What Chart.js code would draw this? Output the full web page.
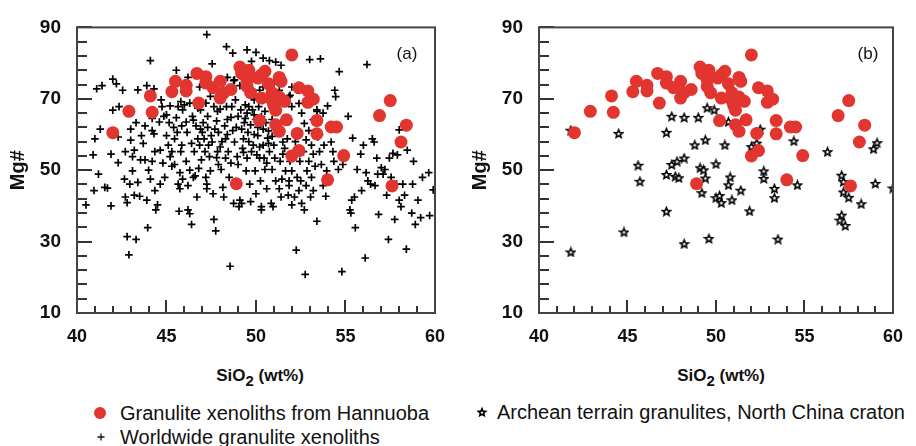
<!DOCTYPE html>
<html>
<head>
<meta charset="utf-8">
<script src="https://cdn.jsdelivr.net/npm/chart.js"></script>
<style>
  body { margin: 0; background: #fff; font-family: "Liberation Sans", Arial, sans-serif; }
  #wrap { position: relative; width: 916px; height: 446px; overflow: hidden; }
  canvas.panel { position: absolute; top: 0; }
  .xtitle { position: absolute; top: 366px; width: 200px; margin-left: -100px; text-align: center;
            font-weight: bold; font-size: 17px; color: #111; }
  .xtitle sub { font-size: 15px; vertical-align: -5px; }
  .leg { position: absolute; font-size: 20px; color: #111; white-space: nowrap; line-height: 22px; }
  .mark { position: absolute; }
</style>
</head>
<body>
<div id="wrap">
  <canvas id="panelA" class="panel" width="458" height="352" style="left:0"></canvas>
  <canvas id="panelB" class="panel" width="458" height="352" style="left:458px"></canvas>
  <div class="xtitle" style="left:260px">SiO<sub>2</sub> (wt%)</div>
  <div class="xtitle" style="left:721px">SiO<sub>2</sub> (wt%)</div>

  <div class="mark" style="left:94px;top:407px;width:12px;height:12px;border-radius:50%;background:#e2352f"></div>
  <div class="leg" style="left:120px;top:402px">Granulite xenoliths from Hannuoba</div>
  <canvas class="mark" id="legStar" width="12" height="12" style="left:476px;top:406px"></canvas>
  <div class="leg" style="left:497px;top:401px">Archean terrain granulites, North China craton</div>
  <canvas class="mark" id="legCross" width="12" height="12" style="left:95px;top:431px"></canvas>
  <div class="leg" style="left:120px;top:426px">Worldwide granulite xenoliths</div>
</div>
<script>
// axis ranges / ticks
const xRange = [40, 60];
const yRange = [10, 90];
const xStep = 5;
const yStep = 20;
const xMinorStep = 1;
const yMinorStep = 4;
const panelLabels = ['(a)', '(b)'];

// Granulite xenoliths from Hannuoba (same in both panels)
const hannuobaSiO2 = [42.0,42.9,44.1,44.2,45.3,45.5,46.1,46.1,46.7,46.8,47.2,47.2,47.6,48.0,48.0,48.2,48.6,49.1,49.2,49.6,
  49.5,49.5,49.7,48.9,50.1,50.3,50.5,50.3,50.2,50.7,50.9,50.9,51.0,51.1,51.1,51.3,51.3,51.4,51.3,51.6,
  51.7,52.0,52.0,52.3,52.4,52.4,52.9,52.9,53.2,53.4,53.4,54.0,54.2,54.5,54.9,56.9,57.5,57.6,58.1,58.4];
const hannuobaMg = [60.5,66.5,70.8,66.2,72.0,74.9,73.8,72.2,77.1,68.8,76.2,74.4,73.1,74.9,70.2,71.7,72.6,78.9,77.1,78.0,
  75.3,73.5,71.7,46.2,75.8,76.7,77.7,70.2,63.9,74.2,71.7,69.5,68.1,66.8,62.7,60.9,76.0,74.9,70.5,69.3,
  64.1,82.3,54.0,60.3,55.5,73.1,72.2,69.0,69.9,63.9,60.2,47.3,62.1,62.1,54.1,65.3,69.5,45.6,57.9,62.6];

// Worldwide granulite xenoliths (panel a)
const worldSiO2 = [47.25,48.35,48.7,49.5,50.0,50.4,50.75,51.1,51.4,47.55,44.1,53.0,53.6,56.2,54.65,49.75,45.55,
  42.0,42.2,41.1,41.4,42.55,43.4,43.9,44.3,46.2,46.85,48.4,48.75,49.2,47.45,46.0,52.0,51.9,54.4,54.45,54.0,53.4,55.15,55.4,
  40.5,41.0,40.9,40.95,41.2,41.3,41.55,41.7,41.9,41.9,42.0,42.3,42.3,42.35,42.65,42.7,42.7,42.8,42.8,42.9,
  42.95,43.0,43.0,43.1,43.1,43.2,43.2,43.3,43.3,43.4,43.5,43.55,43.6,43.8,43.8,43.9,43.95,44.0,44.2,44.2,
  44.3,44.35,44.35,44.5,44.4,44.65,44.65,44.7,44.75,44.8,44.85,
  45.0,45.1,45.15,45.2,45.3,45.3,45.45,45.55,45.6,45.65,45.7,45.75,45.8,45.85,45.85,45.9,46.0,46.1,46.15,46.2,
  46.2,46.3,46.4,46.4,46.45,46.5,46.55,46.6,46.65,46.7,46.75,46.85,46.9,46.95,47.0,47.05,47.1,47.15,47.2,47.25,
  47.25,47.3,47.35,47.4,47.45,47.5,47.55,47.6,47.65,47.75,47.8,47.85,47.9,47.9,48.0,48.0,48.05,48.15,48.2,48.25,
  48.3,48.3,48.35,48.4,48.45,48.5,48.55,48.65,48.7,48.75,48.8,48.85,48.85,48.95,49.0,49.0,49.05,49.1,49.15,49.2,
  49.25,49.3,49.35,49.4,49.45,49.5,49.5,49.55,49.6,49.65,49.7,49.75,49.8,49.85,49.9,49.95,50.0,50.0,50.05,50.1,
  50.15,50.2,50.25,50.3,50.3,50.4,50.4,50.45,50.5,50.55,50.6,50.65,50.7,50.75,50.85,50.9,50.9,50.95,51.0,51.05,
  51.1,51.2,51.3,51.35,51.4,51.45,51.5,51.6,51.65,51.75,51.8,51.85,51.85,51.9,52.0,52.0,52.1,52.15,52.25,52.3,
  52.4,52.45,52.5,52.55,52.65,52.7,52.75,52.8,52.85,52.95,53.05,53.1,53.1,53.2,53.3,53.4,53.45,53.55,53.65,53.75,
  53.8,53.9,53.95,54.2,54.3,54.35,54.6,54.8,54.85,54.95,55.25,55.3,55.35,55.5,55.55,55.65,55.85,55.9,56.0,56.1,
  56.15,56.25,56.4,56.5,56.6,56.65,56.75,56.8,56.85,57.0,57.1,57.2,57.3,57.4,57.45,57.55,57.65,57.75,57.85,57.9,
  58.0,58.0,58.1,58.2,58.3,58.4,58.45,58.7,58.75,58.8,58.9,59.05,59.2,59.3,59.65,59.7,59.9,
  48.8,49.1,49.6,50.2,50.4,50.6,51.0,51.3,51.5,51.85,52.0,52.3,52.4,52.55,52.7,52.95,53.2,53.4,53.75,53.55,
  45.65,45.8,46.3,46.75,47.2,47.65,47.85,45.45,45.2,45.75,
  48.6,48.9,49.2,49.4,49.7,49.9,50.1,50.3,50.5,50.7,50.9,51.1,49.6,49.9,50.2,48.4,48.1,47.7,47.3,46.9,
  46.5,46.1,45.4,45.0,44.6,44.2,48.6,49.3,50.6,51.5,52.2,52.8,53.2,47.8,46.8,46.3,45.9,44.9,44.1,43.7];
const worldMg = [88,84.6,82.8,83.7,83.0,81.4,80.7,80.3,79.4,79.8,80.7,81.0,81.2,79.6,77.6,80.5,78.0,
  75.5,74.2,72.8,73.7,72.4,72.5,73.7,72.8,76.0,73.3,76.0,75.1,76.2,70.7,72.4,73.3,71.0,72.4,70.6,68.0,66.9,65.1,59.0,
  40.3,58.8,54.3,44.3,48.9,61.5,45.2,45.0,40.0,54.5,66.8,59.3,52.1,67.8,47.5,55.2,42.5,40.9,31.4,26.3,
  46.1,58.4,61.5,53.8,49.8,55.6,43.0,30.6,63.3,46.6,42.7,52.9,59.7,62.4,52.9,41.6,33.9,50.0,52.5,61.1,
  60.2,55.2,44.3,40.3,38.9,46.1,55.6,69.7,67.8,52.0,65.1,
  59.7,57.0,63.3,68.0,55.2,51.1,58.8,64.7,60.6,46.1,38.5,44.8,55.2,57.0,62.4,66.9,68.3,52.5,60.6,45.7,
  38.9,37.8,34.8,57.5,65.1,48.0,55.2,48.4,62.4,42.5,58.8,57.0,66.9,52.9,60.6,63.3,58.8,55.2,48.0,46.1,
  44.8,65.1,57.0,53.8,49.8,59.7,57.9,43.4,36.2,33.0,63.8,55.2,51.6,60.6,67.1,56.5,50.2,45.2,42.5,62.4,
  58.8,53.4,67.8,64.2,55.2,48.0,23.1,67.8,61.1,40.7,57.9,69.7,45.7,53.8,65.1,51.6,39.8,41.6,66.9,40.7,
  56.1,58.8,63.3,68.3,49.8,66.0,53.4,60.6,67.8,46.1,41.2,55.2,66.9,57.0,69.7,49.8,64.2,43.4,54.3,59.7,
  67.8,53.4,47.0,39.8,38.9,61.5,57.0,53.4,50.2,63.3,44.8,59.0,57.5,55.2,40.7,50.2,64.2,39.8,57.0,53.4,
  47.0,60.6,44.8,52.5,42.5,47.5,57.9,56.1,49.8,58.8,43.0,45.7,47.0,52.5,49.8,40.3,55.2,42.5,27.6,48.0,
  44.3,52.5,47.0,40.7,55.2,38.9,20.8,45.7,49.8,52.5,42.5,57.0,48.0,44.3,51.1,35.7,59.3,55.2,51.6,45.7,
  57.0,42.7,49.8,57.9,55.2,52.5,50.2,21.6,51.6,53.4,38.9,38.0,41.6,42.5,33.9,50.2,54.5,44.3,57.0,25.4,
  49.3,47.0,46.1,58.8,57.9,45.7,53.4,48.9,37.6,50.7,48.9,50.2,43.0,30.6,53.4,48.0,54.7,36.2,46.1,54.3,
  41.6,61.3,39.8,46.1,43.0,27.9,55.6,38.0,46.1,52.5,34.8,41.6,36.7,48.0,49.3,37.3,44.5,
  75.3,73.7,73.7,72.4,73.3,71.0,74.2,72.4,69.2,70.6,67.8,72.5,68.7,66.0,63.1,61.1,64.2,66.5,66.0,60.0,
  67.8,69.2,68.8,67.4,68.8,67.8,66.5,51.6,53.8,49.3,
  64.8,62.0,61.5,64.5,62.7,65.5,62.0,65.0,66.5,61.0,59.5,62.0,58.0,60.0,56.5,60.0,58.0,61.5,62.0,61.5,
  64.0,63.5,62.0,65.5,63.5,64.5,52.0,55.0,52.0,54.5,58.0,58.5,54.5,53.5,50.5,50.0,47.5,48.0,47.5,57.5];

// Archean terrain granulites, North China craton (panel b)
const archeanSiO2 = [41.8,41.8,44.5,44.8,45.6,45.7,47.2,47.2,47.2,47.5,47.5,47.7,47.9,47.8,48.2,48.2,48.2,48.8,49.0,49.1,
  49.3,49.2,49.4,49.4,49.5,49.6,49.9,50.0,50.0,50.2,50.3,50.5,50.7,50.7,50.8,50.9,51.4,51.9,52.0,52.3,
  52.5,52.7,52.7,53.3,53.3,53.5,54.4,54.6,56.3,57.1,57.2,57.2,57.1,57.0,57.3,57.5,58.2,58.9,59.1,59.0,60.0];
const archeanMg = [27.1,61.2,60.3,32.7,51.4,46.9,38.5,60.6,48.8,65.1,51.6,48.3,47.9,52.5,64.8,53.4,29.4,57.1,64.8,50.7,
  50.1,43.7,47.8,58.5,67.5,30.9,66.9,51.8,42.3,42.9,40.9,57.1,63.6,45.9,48.1,41.7,44.4,38.6,56.6,57.6,
  61.5,49.8,47.7,44.9,42.3,30.7,58.2,45.9,55.2,48.6,46.8,43.9,37.4,36.0,34.5,42.4,40.6,56.0,57.7,46.3,45.0];

const toPoints = (xs, ys) => xs.map((v, i) => ({ x: v, y: ys[i] }));

// small open five-pointed star used as point style
function drawStar(ctx, cx, cy, rOut, rIn) {
  ctx.beginPath();
  for (let i = 0; i < 10; i++) {
    const r = i % 2 === 0 ? rOut : rIn;
    const a = -Math.PI / 2 + i * Math.PI / 5;
    ctx.lineTo(cx + r * Math.cos(a), cy + r * Math.sin(a));
  }
  ctx.closePath();
  ctx.fillStyle = '#fff';
  ctx.fill();
  ctx.strokeStyle = '#000';
  ctx.lineWidth = 1.6;
  ctx.stroke();
}
const starImg = document.createElement('canvas');
starImg.width = 11; starImg.height = 11;
drawStar(starImg.getContext('2d'), 5.5, 6, 4.2, 1.9);

drawStar(document.getElementById('legStar').getContext('2d'), 6, 6.5, 3.8, 1.7);
const lc = document.getElementById('legCross').getContext('2d');
lc.strokeStyle = '#111'; lc.lineWidth = 1.3;
lc.beginPath(); lc.moveTo(6, 2.5); lc.lineTo(6, 9.5); lc.moveTo(2.5, 6); lc.lineTo(9.5, 6); lc.stroke();

// frame, inside tick marks and panel label (ticks spaced along the chart area of the linear axes)
const frameTicks = {
  id: 'frameTicks',
  afterDraw(chart) {
    const ctx = chart.ctx;
    const a = chart.chartArea;
    const info = chart.options.plugins.frameTicks;
    const w = a.right - a.left;
    const h = a.bottom - a.top;
    ctx.save();
    ctx.fillStyle = '#333';
    const nx = Math.round((xRange[1] - xRange[0]) / xMinorStep);
    for (let i = 0; i <= nx; i++) {
      const px = a.left + i * w / nx;
      const len = (i * xMinorStep) % xStep === 0 ? 13 : 7;
      ctx.fillRect(Math.round(px) - 1, Math.round(a.bottom - len), 2, len);
    }
    const ny = Math.round((yRange[1] - yRange[0]) / yMinorStep);
    for (let i = 0; i <= ny; i++) {
      const py = a.bottom - i * h / ny;
      const len = (i * yMinorStep) % yStep === 0 ? 15 : 10;
      ctx.fillRect(Math.round(a.left), Math.round(py) - 1, len, 2);
    }
    ctx.strokeStyle = '#444';
    ctx.lineWidth = 2;
    ctx.strokeRect(a.left, a.top, w, h);
    ctx.fillStyle = '#111';
    ctx.font = '17px "Liberation Sans", Arial, sans-serif';
    ctx.textAlign = 'center';
    ctx.textBaseline = 'middle';
    ctx.fillText(info.label, a.right - info.dx, a.top + 27);
    ctx.restore();
  }
};

function makePanel(id, datasets, yWidth, padTop, padRight, titlePad, label, dx) {
  new Chart(document.getElementById(id), {
    type: 'scatter',
    data: { datasets: datasets },
    options: {
      responsive: false,
      animation: false,
      layout: { padding: { top: padTop, right: padRight, left: 0, bottom: 0 } },
      plugins: { legend: { display: false }, tooltip: { enabled: false }, frameTicks: { label: label, dx: dx } },
      scales: {
        x: {
          type: 'linear', min: xRange[0], max: xRange[1],
          grid: { display: false, drawTicks: false },
          border: { display: false },
          ticks: { stepSize: xStep, padding: 13, color: '#111',
                   font: { family: '"Liberation Sans", Arial, sans-serif', size: 18, weight: 'bold' } },
          afterFit: (s) => { s.height = 352 - 313; }
        },
        y: {
          type: 'linear', min: yRange[0], max: yRange[1],
          grid: { display: false, drawTicks: false },
          border: { display: false },
          ticks: { stepSize: yStep, padding: 16, color: '#111',
                   font: { family: '"Liberation Sans", Arial, sans-serif', size: 19, weight: 'bold' } },
          title: { display: true, text: 'Mg#', color: '#111', padding: { top: titlePad, bottom: 0 },
                   font: { family: '"Liberation Sans", Arial, sans-serif', size: 20, weight: 'bold' } },
          afterFit: (s) => { s.width = yWidth; }
        }
      }
    },
    plugins: [frameTicks]
  });
}

const hannuobaSet = {
  label: 'Granulite xenoliths from Hannuoba',
  data: toPoints(hannuobaSiO2, hannuobaMg),
  pointStyle: 'circle', pointRadius: 6.5, backgroundColor: '#e2352f', borderWidth: 0
};

makePanel('panelA', [
  hannuobaSet,
  { label: 'Worldwide granulite xenoliths', data: toPoints(worldSiO2, worldMg),
    pointStyle: 'cross', pointRadius: 3.8, borderColor: '#000', borderWidth: 1.7 }
], 77, 18, 15, 6, panelLabels[0], 28);

makePanel('panelB', [
  Object.assign({}, hannuobaSet),
  { label: 'Archean terrain granulites, North China craton', data: toPoints(archeanSiO2, archeanMg),
    pointStyle: starImg, pointRadius: 5 }
], 81, 17, 12, 10, panelLabels[1], 25);
</script>
</body>
</html>
